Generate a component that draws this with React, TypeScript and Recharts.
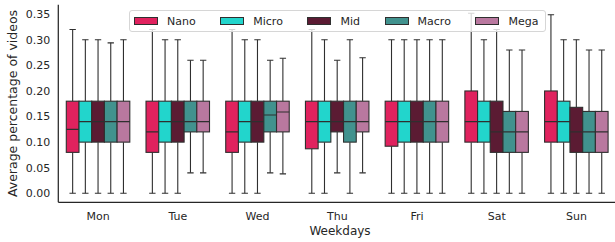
import React from 'react';
import { BarChart, Bar, XAxis, YAxis, Legend } from 'recharts';

// ---- data ----
const days = ['Mon', 'Tue', 'Wed', 'Thu', 'Fri', 'Sat', 'Sun'];
const seriesNames = ['Nano', 'Micro', 'Mid', 'Macro', 'Mega'];
const seriesColors = ['#e0225e', '#22d5cc', '#5b1b33', '#41928e', '#b9789f'];
const yTicks = [0, 0.05, 0.1, 0.15, 0.2, 0.25, 0.3, 0.35];

// each entry: [min, q1, median, q3, max]
const nanoStats = [
  [0, 0.08, 0.125, 0.18, 0.32],
  [0, 0.08, 0.12, 0.18, 0.32],
  [0, 0.08, 0.12, 0.18, 0.32],
  [0, 0.087, 0.14, 0.18, 0.32],
  [0, 0.092, 0.14, 0.18, 0.30],
  [0, 0.10, 0.14, 0.20, 0.352],
  [0, 0.10, 0.14, 0.20, 0.349],
];
const microStats = [
  [0, 0.10, 0.14, 0.18, 0.30],
  [0, 0.10, 0.14, 0.18, 0.30],
  [0, 0.10, 0.14, 0.18, 0.30],
  [0, 0.10, 0.14, 0.18, 0.30],
  [0, 0.10, 0.14, 0.18, 0.30],
  [0, 0.10, 0.14, 0.18, 0.30],
  [0, 0.10, 0.14, 0.18, 0.30],
];
const midStats = [
  [0, 0.10, 0.14, 0.18, 0.30],
  [0, 0.10, 0.14, 0.18, 0.30],
  [0, 0.10, 0.14, 0.18, 0.30],
  [0.04, 0.12, 0.14, 0.18, 0.26],
  [0, 0.10, 0.14, 0.18, 0.30],
  [0, 0.08, 0.12, 0.18, 0.32],
  [0, 0.08, 0.12, 0.168, 0.30],
];
const macroStats = [
  [0, 0.10, 0.14, 0.18, 0.294],
  [0.04, 0.12, 0.14, 0.18, 0.26],
  [0.04, 0.12, 0.153, 0.18, 0.26],
  [0, 0.10, 0.14, 0.18, 0.30],
  [0, 0.10, 0.14, 0.18, 0.30],
  [0, 0.08, 0.12, 0.16, 0.28],
  [0, 0.08, 0.12, 0.16, 0.28],
];
const megaStats = [
  [0, 0.10, 0.14, 0.18, 0.30],
  [0.04, 0.12, 0.14, 0.18, 0.26],
  [0.038, 0.12, 0.159, 0.18, 0.264],
  [0.04, 0.12, 0.14, 0.18, 0.265],
  [0, 0.10, 0.14, 0.18, 0.30],
  [0, 0.08, 0.12, 0.16, 0.28],
  [0, 0.08, 0.12, 0.16, 0.28],
];
const allStats = [nanoStats, microStats, midStats, macroStats, megaStats];

const tableData = days.map((day, i) => {
  const row: any = { day };
  seriesNames.forEach((name, s) => {
    const [min, q1, med, q3, max] = allStats[s][i];
    row[name] = { min, q1, med, q3, max };
  });
  return row;
});

const LINE = '#2f2f2f';
const FONT = 'DejaVu Sans';
const TEXT = '#262626';

const makeBoxShape = (name: string, color: string) => (props: any) => {
  const { x, y, width, height, payload } = props;
  const s = payload[name];
  const top = Math.min(y, y + height);
  const h = Math.abs(height);
  const span = s.max - s.min;
  const py = (v: number) => top + (h * (s.max - v)) / span;
  const cx = x + width / 2;
  const cap = width / 4;
  return (
    <g>
      <line x1={cx} x2={cx} y1={py(s.max)} y2={py(s.q3)} stroke={LINE} strokeWidth={1.1} />
      <line x1={cx} x2={cx} y1={py(s.q1)} y2={py(s.min)} stroke={LINE} strokeWidth={1.1} />
      <line x1={cx - cap} x2={cx + cap} y1={py(s.max)} y2={py(s.max)} stroke={LINE} strokeWidth={1.1} />
      <line x1={cx - cap} x2={cx + cap} y1={py(s.min)} y2={py(s.min)} stroke={LINE} strokeWidth={1.1} />
      <rect x={x} y={py(s.q3)} width={width} height={py(s.q1) - py(s.q3)} fill={color} stroke={LINE} strokeWidth={1.1} />
      <line x1={x} x2={x + width} y1={py(s.med)} y2={py(s.med)} stroke={LINE} strokeWidth={1.1} />
    </g>
  );
};

const LegendBox = () => (
  <div
    style={{
      boxSizing: 'border-box',
      width: 417,
      height: 22,
      border: '1px solid #d6d6d6',
      borderRadius: 3,
      background: 'rgba(255,255,255,0.8)',
      display: 'flex',
      alignItems: 'center',
      paddingLeft: 4,
      fontFamily: FONT,
      fontSize: 11,
      color: TEXT,
      lineHeight: 1,
    }}
  >
    {seriesNames.map((name, i) => (
      <div key={name} style={{ display: 'flex', alignItems: 'center', marginRight: i < seriesNames.length - 1 ? 24.6 : 0 }}>
        <div style={{ boxSizing: 'border-box', width: 24, height: 8.5, background: seriesColors[i], border: `1px solid ${LINE}` }} />
        <span style={{ marginLeft: 9 }}>{name}</span>
      </div>
    ))}
  </div>
);

export default function App() {
  return (
    <div style={{ position: 'absolute', left: 0, top: 0, width: 615, height: 242, overflow: 'hidden', background: '#fff' }}>
      <BarChart
        width={618}
        height={242}
        data={tableData}
        margin={{ top: 4.7, right: 1.7, bottom: 0, left: 0 }}
        barGap={0}
        barSize={12.7}
      >
        <XAxis
          dataKey="day"
          height={39.7}
          tickLine={false}
          tickMargin={3.6}
          axisLine={{ stroke: TEXT, strokeWidth: 1.25 }}
          tick={{ fill: TEXT, fontSize: 11, fontFamily: FONT }}
          label={{ value: 'Weekdays', position: 'insideBottom', offset: 6.6, dx: 2.7, fill: TEXT, fontSize: 12, fontFamily: FONT }}
        />
        <XAxis
          xAxisId="top"
          orientation="top"
          dataKey="day"
          height={0}
          tick={false}
          tickLine={false}
          axisLine={{ stroke: TEXT, strokeWidth: 1.25 }}
        />
        <YAxis
          width={58.3}
          domain={[-0.0176, 0.3686]}
          ticks={yTicks}
          allowDataOverflow
          tickLine={false}
          axisLine={{ stroke: TEXT, strokeWidth: 1.25 }}
          tickFormatter={(v: number) => v.toFixed(2)}
          tick={{ fill: TEXT, fontSize: 11, fontFamily: FONT }}
          label={{ value: 'Average percentage of videos', angle: -90, position: 'insideLeft', offset: 13, fill: TEXT, fontSize: 12.5, fontFamily: FONT, style: { textAnchor: 'middle' } }}
        />
        <Legend
          layout="horizontal"
          align="center"
          verticalAlign="middle"
          wrapperStyle={{ left: 129, top: 10, width: 417, height: 22 }}
          content={() => <LegendBox />}
        />
        {seriesNames.map((name, i) => (
          <Bar
            key={name}
            dataKey={(d: any) => [d[name].min, d[name].max]}
            name={name}
            fill={seriesColors[i]}
            isAnimationActive={false}
            shape={makeBoxShape(name, seriesColors[i])}
          />
        ))}
      </BarChart>
    </div>
  );
}
